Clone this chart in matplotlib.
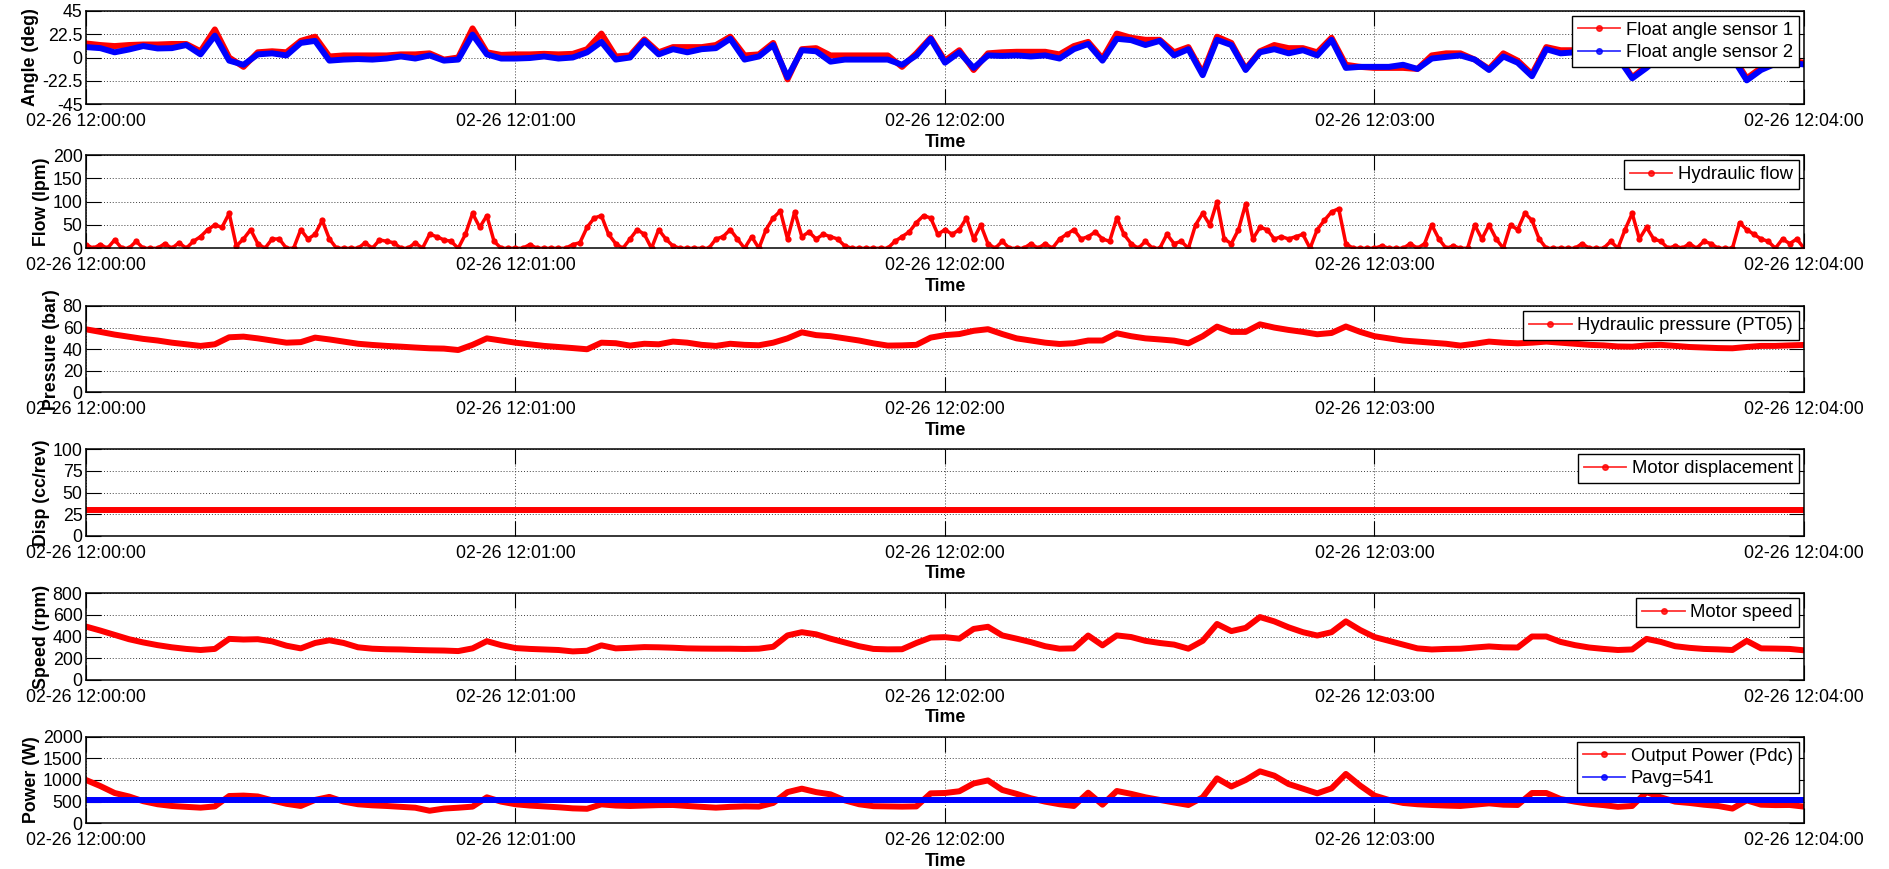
import numpy as np
import matplotlib.pyplot as plt
from matplotlib.lines import Line2D
from matplotlib.ticker import FuncFormatter

plt.rcParams['font.family'] = ['Liberation Sans', 'DejaVu Sans']
plt.rcParams['axes.unicode_minus'] = False
FS = 12.75
LEG_FS = 13.3

# time in seconds after 02-26 12:00:00
t2 = np.arange(0, 241, 2)
t1 = np.arange(0, 241, 1)

angle1 = [13.5, 12, 11, 12, 12.5, 12.5, 13, 13, 6, 27,
          0, -9, 5, 6, 5, 16, 20, 1, 2, 2,
          2, 2, 3, 3, 4, -2, 0, 28, 5, 2.5,
          3, 3, 3.5, 3, 3.5, 8, 23, 1, 2, 17.5,
          5, 10, 10, 10, 12, 20, 2, 3, 14, -21,
          8, 9, 2, 2, 2, 2, 2, -9, 4, 19,
          -3, 7, -12, 4, 5, 5.5, 5.5, 5.5, 3, 11,
          15, -1, 23, 19, 17, 17, 5, 10, -15, 20,
          14, -11, 6, 12, 9, 9, 5, 19, -7, -9,
          -10, -10, -10, -11, 2, 4, 4, -2, -11, 4,
          -3, -16, 10, 7, 7, 7, 6, 2, -19, -8,
          4, 6, 5, 6, 5, 2, -20, -10, -4, -3,
          -5]
angle2 = [10, 9, 5, 7.7, 11, 8.7, 9, 12, 3, 21,
          -3, -7, 3, 4, 2, 14, 16, -3, -2, -1.5,
          -2, -1, 1, -1, 2, -3, -2, 22, 3, -1,
          -1, -0.5, 1, -1, 0, 5, 15, -2, 0, 16,
          3, 8, 5, 8, 9, 18, -2, 1, 12, -19,
          7, 6, -4, -2, -2, -2, -2, -7, 2, 18,
          -5, 5, -10, 2, 1.5, 2, 1, 2, -1, 8,
          13, -3, 18, 16.7, 12, 16, 2, 8, -17, 17,
          12, -12, 5, 8, 4, 7, 2, 17, -10, -9,
          -9, -9, -7, -11, -1, 0.6, 2, -2, -12, 1,
          -5, -18, 8, 4, 5, 5, 4, 0, -20, -10,
          2, 4, 3, 4, 3, 0, -22, -12, -6, -5,
          -6.7]

flow = [8, 0, 8, 0, 18, 0, 0, 15, 0, 0,
        0, 10, 0, 12, 0, 15, 25, 40, 50, 45,
        75, 5, 20, 40, 10, 0, 20, 20, 0, 0,
        40, 20, 30, 60, 20, 0, 0, 0, 0, 12,
        0, 18, 15, 12, 0, 0, 12, 0, 30, 25,
        18, 15, 0, 30, 75, 45, 70, 15, 0, 0,
        0, 0, 8, 0, 0, 0, 0, 0, 8, 12,
        45, 65, 70, 30, 10, 0, 20, 40, 30, 0,
        40, 20, 5, 0, 0, 0, 0, 0, 20, 25,
        40, 20, 0, 25, 0, 40, 65, 80, 20, 78,
        25, 35, 20, 30, 25, 20, 5, 0, 0, 0,
        0, 0, 0, 15, 25, 35, 55, 70, 65, 30,
        40, 30, 40, 65, 20, 50, 10, 0, 15, 0,
        0, 0, 10, 0, 10, 0, 20, 30, 40, 20,
        25, 35, 20, 15, 65, 30, 10, 0, 15, 0,
        0, 30, 10, 15, 0, 50, 75, 50, 100, 20,
        10, 40, 95, 20, 45, 40, 20, 25, 20, 25,
        30, 0, 40, 60, 78, 85, 10, 0, 0, 0,
        0, 5, 0, 0, 0, 10, 0, 10, 50, 20,
        0, 5, 0, 0, 50, 20, 50, 20, 0, 50,
        40, 75, 60, 20, 0, 0, 0, 0, 0, 10,
        0, 0, 0, 15, 0, 40, 75, 20, 45, 20,
        15, 0, 5, 0, 10, 0, 15, 10, 0, 0,
        0, 55, 40, 30, 20, 15, 0, 20, 10, 20,
        0]

pressure = [58.4, 56, 53.5, 51.5, 49.5, 48, 46, 44.5, 43, 44.5,
            51, 51.6, 50, 48, 46, 46.5, 50.7, 49, 47, 45,
            43.9, 43, 42.3, 41.5, 40.8, 40.5, 39.2, 44, 50, 48,
            46, 44.5, 43, 42, 41, 39.9, 46, 45.5, 43.3, 45,
            44.5, 47, 46, 44, 43, 45, 44, 43.6, 46, 50,
            55.6, 53, 52, 50, 48, 45.4, 43.3, 43.5, 44, 50.7,
            53, 54, 57, 58.5, 54, 50, 48, 46, 44.8, 45.5,
            48, 48, 54.7, 52, 50, 49, 47.9, 45.4, 52, 60.9,
            56, 56, 63, 60, 57.8, 56, 53.8, 55, 61, 56,
            52, 50, 48, 47, 46, 45, 43.3, 45, 47, 46,
            45.4, 46, 47, 46, 45, 44, 43.5, 42.5, 42.3, 43.5,
            44, 43, 42, 41.5, 41, 40.8, 42, 43, 43, 43.5,
            43.9]

disp_level = 30

speed = [492, 455, 415, 375, 345, 320, 300, 285, 275, 285,
         378, 372, 375, 355, 315, 290, 340, 365, 340, 300,
         287, 282, 280, 275, 272, 270, 265, 290, 357, 320,
         293, 285, 280, 275, 262, 268, 318, 290, 295, 302,
         300, 296, 290, 288, 287, 287, 285, 287, 305, 410,
         440, 420, 380, 345, 310, 285, 281, 282, 340, 390,
         394, 380, 470, 490, 410, 380, 348, 310, 287, 290,
         409, 318, 410, 395, 360, 340, 325, 287, 360, 516,
         450, 480, 580, 540, 485, 440, 409, 440, 540, 460,
         395, 360, 325, 290, 280, 285, 287, 298, 308, 300,
         298, 400, 400, 350, 320, 298, 285, 275, 280, 378,
         350, 310, 295, 285, 281, 275, 360, 290, 288, 285,
         272]

power = [1000, 860, 700, 620, 510, 440, 400, 380, 361, 390,
         630, 640, 620, 530, 450, 400, 540, 610, 500, 440,
         415, 400, 380, 360, 290, 340, 360, 385, 600, 500,
         440, 410, 390, 370, 345, 335, 438, 410, 400, 410,
         420, 423, 400, 380, 361, 380, 390, 385, 470, 720,
         800, 720, 669, 530, 440, 395, 390, 385, 390, 692,
         700, 740, 920, 990, 770, 680, 577, 500, 440, 400,
         707, 430, 746, 680, 600, 540, 480, 423, 600, 1038,
         850, 1000, 1200, 1100, 907, 800, 692, 807, 1140, 870,
         640, 540, 470, 440, 423, 410, 400, 430, 461, 430,
         423, 700, 700, 560, 500, 450, 420, 380, 400, 720,
         600, 500, 470, 430, 400, 340, 530, 430, 420, 423,
         385]
p_avg = 541

W, H = 1890, 869
fig = plt.figure(figsize=(W / 100, H / 100), dpi=100)
L, R = 86, 1804
boxes = [(10.7, 104.3), (155, 248.3), (306, 392.3), (449, 536),
         (593.3, 679.7), (736.7, 823.3)]
axes = [fig.add_axes([L / W, 1 - b / H, (R - L) / W, (b - t) / H])
        for t, b in boxes]


def time_fmt(s, pos):
    s = int(round(s))
    return "02-26 12:%02d:%02d" % (s // 60, s % 60)


def style(ax, ylim, yticks, ylabel):
    ax.set_xlim(0, 240)
    ax.set_ylim(*ylim)
    ax.set_xticks([0, 60, 120, 180, 240])
    ax.xaxis.set_major_formatter(FuncFormatter(time_fmt))
    ax.set_yticks(yticks)
    ax.yaxis.set_major_formatter(FuncFormatter(lambda v, p: "%g" % v))
    ax.grid(True, color='0.25', linestyle=(0, (1, 2)), linewidth=0.7)
    ax.tick_params(direction='in', length=11, width=0.8, top=True,
                   right=True, labelsize=FS)
    ax.tick_params(axis='x', pad=6.5)
    ax.tick_params(axis='y', pad=2.5)
    ax.set_xlabel('Time', fontsize=FS, fontweight='bold', labelpad=2.5)
    ax.set_ylabel(ylabel, fontsize=FS, fontweight='bold', labelpad=2)
    for sp in ax.spines.values():
        sp.set_linewidth(1.1)


def add_legend(ax, colors, labels):
    handles = [Line2D([0], [0], color=c, lw=1.3, alpha=0.8, marker='.',
                      markersize=8) for c in colors]
    leg = ax.legend(handles, labels, loc='upper right', fontsize=LEG_FS,
                    frameon=True, fancybox=False, edgecolor='black',
                    framealpha=1, borderaxespad=0.28, borderpad=0.32,
                    handlelength=2.3, handletextpad=0.3, labelspacing=0.3,
                    numpoints=1)
    leg.get_frame().set_linewidth(1.0)


lw = 4.3
ax1, ax2, ax3, ax4, ax5, ax6 = axes

ax1.plot(t2, angle1, color='red', lw=lw, solid_joinstyle='round')
ax1.plot(t2, angle2, color='blue', lw=lw, solid_joinstyle='round')
style(ax1, (-45, 45), [-45, -22.5, 0, 22.5, 45], 'Angle (deg)')
add_legend(ax1, ['red', 'blue'], ['Float angle sensor 1', 'Float angle sensor 2'])

ax2.plot(t1, flow, color='red', lw=2.5, marker='o', ms=4.5, mew=0)
style(ax2, (0, 200), [0, 50, 100, 150, 200], 'Flow (lpm)')
add_legend(ax2, ['red'], ['Hydraulic flow'])

ax3.plot(t2, pressure, color='red', lw=lw, solid_joinstyle='round')
style(ax3, (0, 80), [0, 20, 40, 60, 80], 'Pressure (bar)')
add_legend(ax3, ['red'], ['Hydraulic pressure (PT05)'])

ax4.plot(t2, [disp_level] * len(t2), color='red', lw=lw)
style(ax4, (0, 100), [0, 25, 50, 75, 100], 'Disp (cc/rev)')
add_legend(ax4, ['red'], ['Motor displacement'])

ax5.plot(t2, speed, color='red', lw=lw, solid_joinstyle='round')
style(ax5, (0, 800), [0, 200, 400, 600, 800], 'Speed (rpm)')
add_legend(ax5, ['red'], ['Motor speed'])

ax6.plot(t2, power, color='red', lw=lw, solid_joinstyle='round')
ax6.plot(t2, [p_avg] * len(t2), color='blue', lw=lw)
style(ax6, (0, 2000), [0, 500, 1000, 1500, 2000], 'Power (W)')
add_legend(ax6, ['red', 'blue'], ['Output Power (Pdc)', 'Pavg=%d' % p_avg])

fig.savefig('out.png', dpi=100, facecolor='white')
